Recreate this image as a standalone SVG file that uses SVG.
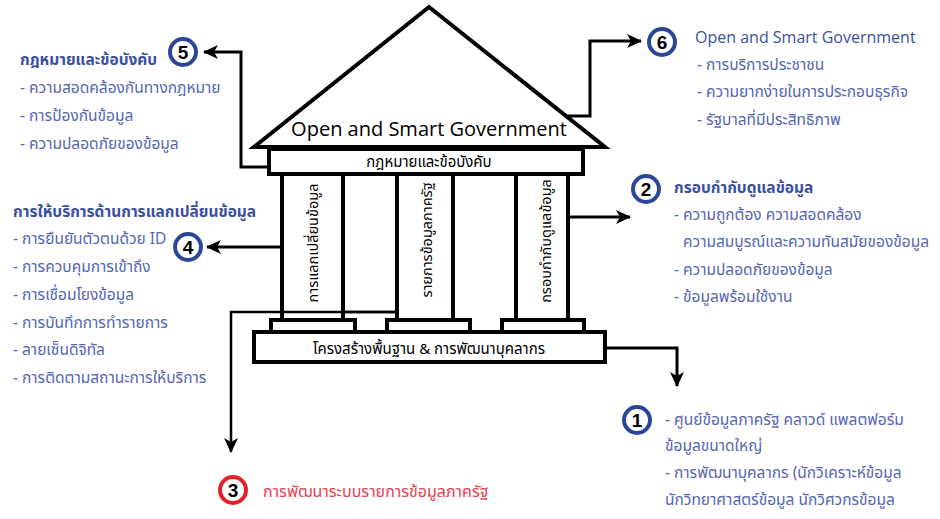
<svg xmlns="http://www.w3.org/2000/svg" width="940" height="519" viewBox="0 0 940 519">
<defs>
<style>
.st{fill:#fff;stroke:#000;stroke-width:4;stroke-linejoin:miter}
.cn{fill:none;stroke:#000;stroke-width:3}
.th{font-family:"Noto Sans Thai","Noto Sans Thai UI","Noto Sans",sans-serif}
.en{font-family:"Open Sans","Noto Sans",sans-serif}
.blk{fill:#000;font-size:15px}
.pl{fill:#000;font-size:14.5px}
.hd{fill:#3B4FA0;font-size:15.5px;font-weight:bold}
.it{fill:#5566B4;font-size:15.5px}
.red{fill:#E8404E;font-size:16px}
.cb{fill:#fff;stroke:#2B4597;stroke-width:4}
.cr{fill:#fff;stroke:#E5202A;stroke-width:4}
.num{font-family:"Liberation Sans",Arial,sans-serif;font-weight:bold;font-size:19px;fill:#000;text-anchor:middle}
</style>
<marker id="ah" markerUnits="userSpaceOnUse" markerWidth="16" markerHeight="16" viewBox="0 0 16 16" refX="14" refY="8" orient="auto">
<path d="M0,1 L15,8 L0,15 L4,8 z" fill="#000"/>
</marker>
</defs>

<g id="connectors">
<polyline class="cn" points="269,167 241,167 241,52 204,52" marker-end="url(#ah)"/>
<polyline class="cn" points="566,116 590,116 590,41 641,41" marker-end="url(#ah)"/>
<line class="cn" x1="282" y1="247" x2="207" y2="247" marker-end="url(#ah)"/>
<line class="cn" x1="570" y1="217" x2="630" y2="217" marker-end="url(#ah)"/>
<polyline class="cn" style="stroke-width:2.5" points="397,312 231,312 231,452" marker-end="url(#ah)"/>
<polyline class="cn" points="605,348 677,348 677,386" marker-end="url(#ah)"/>
</g>

<g id="pillar1">
<rect class="st" x="282" y="174" width="61" height="146"/>
<text class="th pl" x="318" y="243" text-anchor="middle" transform="rotate(-90 318 243)">การแลกเปลี่ยนข้อมูล</text>
</g>
<g id="pillar2">
<rect class="st" x="397" y="174" width="56" height="146"/>
<text class="th pl" x="432" y="240" text-anchor="middle" transform="rotate(-90 432 240)">รายการข้อมูลภาครัฐ</text>
</g>
<g id="pillar3">
<rect class="st" x="516" y="174" width="52" height="146"/>
<text class="th pl" x="551" y="241" text-anchor="middle" transform="rotate(-90 551 241)">กรอบกำกับดูแลข้อมูล</text>
</g>
<line x1="284" y1="312" x2="395" y2="312" stroke="#000" stroke-width="2.5"/>

<g id="plinths">
<rect class="st" x="271" y="320" width="84" height="12"/>
<rect class="st" x="387" y="320" width="83" height="12"/>
<rect class="st" x="502" y="320" width="82" height="12"/>
</g>

<g id="base">
<rect class="st" x="254" y="332" width="351" height="30"/>
<text class="th blk" x="429" y="354" text-anchor="middle">โครงสร้างพื้นฐาน &amp; การพัฒนาบุคลากร</text>
</g>

<g id="roof">
<polygon class="st" points="429,7 254,147 605,147"/>
<text class="en" x="429" y="136" text-anchor="middle" font-size="20" fill="#000">Open and Smart Government</text>
</g>

<g id="lintel">
<rect class="st" x="269" y="149" width="314" height="25"/>
<text class="th blk" x="429" y="167" text-anchor="middle">กฎหมายและข้อบังคับ</text>
</g>

<g id="node5">
<circle class="cb" cx="183" cy="52" r="13"/>
<text class="num" x="183" y="59">5</text>
<text class="th hd" x="20" y="65">กฎหมายและข้อบังคับ</text>
<text class="th it" x="20" y="93">- ความสอดคล้องกันทางกฎหมาย</text>
<text class="th it" x="20" y="121">- การป้องกันข้อมูล</text>
<text class="th it" x="20" y="149">- ความปลอดภัยของข้อมูล</text>
</g>

<g id="node6">
<circle class="cb" cx="662" cy="42" r="13"/>
<text class="num" x="662" y="49">6</text>
<text class="en" x="695" y="43" font-size="16" fill="#3B4FA0">Open and Smart Government</text>
<text class="th it" x="697" y="70">- การบริการประชาชน</text>
<text class="th it" x="697" y="97">- ความยากง่ายในการประกอบธุรกิจ</text>
<text class="th it" x="697" y="125">- รัฐบาลที่มีประสิทธิภาพ</text>
</g>

<g id="node4">
<circle class="cb" cx="188" cy="247" r="13"/>
<text class="num" x="188" y="254">4</text>
<text class="th hd" x="13" y="217">การให้บริการด้านการแลกเปลี่ยนข้อมูล</text>
<text class="th it" x="13" y="244">- การยืนยันตัวตนด้วย ID</text>
<text class="th it" x="13" y="272">- การควบคุมการเข้าถึง</text>
<text class="th it" x="13" y="300">- การเชื่อมโยงข้อมูล</text>
<text class="th it" x="13" y="328">- การบันทึกการทำรายการ</text>
<text class="th it" x="13" y="355">- ลายเซ็นดิจิทัล</text>
<text class="th it" x="13" y="383">- การติดตามสถานะการให้บริการ</text>
</g>

<g id="node2">
<circle class="cb" cx="646" cy="189" r="13"/>
<text class="num" x="646" y="196">2</text>
<text class="th hd" x="674" y="193">กรอบกำกับดูแลข้อมูล</text>
<text class="th it" x="674" y="220">- ความถูกต้อง ความสอดคล้อง</text>
<text class="th it" x="683" y="247">ความสมบูรณ์และความทันสมัยของข้อมูล</text>
<text class="th it" x="674" y="275">- ความปลอดภัยของข้อมูล</text>
<text class="th it" x="674" y="302">- ข้อมูลพร้อมใช้งาน</text>
</g>

<g id="node1">
<circle class="cb" cx="637" cy="420" r="13"/>
<text class="num" x="637" y="427">1</text>
<text class="th it" x="665" y="425">- ศูนย์ข้อมูลภาครัฐ คลาวด์ แพลตฟอร์ม</text>
<text class="th it" x="665" y="451">ข้อมูลขนาดใหญ่</text>
<text class="th it" x="665" y="478">- การพัฒนาบุคลากร (นักวิเคราะห์ข้อมูล</text>
<text class="th it" x="665" y="505">นักวิทยาศาสตร์ข้อมูล นักวิศวกรข้อมูล</text>
</g>

<g id="node3">
<circle class="cr" cx="233" cy="490" r="13"/>
<text class="num" x="233" y="497">3</text>
<text class="th red" x="263" y="497">การพัฒนาระบบรายการข้อมูลภาครัฐ</text>
</g>
</svg>
